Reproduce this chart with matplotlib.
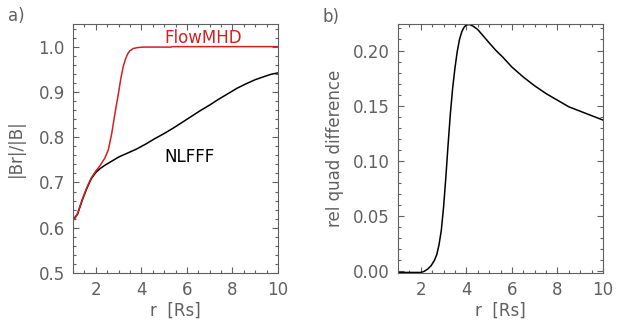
import matplotlib
matplotlib.use("Agg")
import matplotlib.pyplot as plt
from matplotlib.ticker import MultipleLocator

GREY = "#606060"
RED = "#d42020"

# panel a: |Br|/|B| vs r
r_nlfff = [1.0, 1.2, 1.4, 1.6, 1.8, 2.0, 2.2, 2.4, 2.6, 2.8, 3.0, 3.4, 3.8, 4.2, 4.6,
           5.0, 5.4, 5.8, 6.2, 6.6, 7.0, 7.4, 7.8, 8.2, 8.6, 9.0, 9.4, 9.7, 10.0]
b_nlfff = [0.618, 0.630, 0.660, 0.686, 0.708, 0.722, 0.731, 0.738, 0.744, 0.750, 0.756,
           0.765, 0.774, 0.785, 0.797, 0.808, 0.820, 0.833, 0.846, 0.859, 0.871, 0.884,
           0.896, 0.908, 0.918, 0.927, 0.934, 0.939, 0.942]

r_flow = [1.0, 1.1, 1.2, 1.4, 1.6, 1.8, 2.0, 2.2, 2.4, 2.55, 2.7, 2.85, 3.0, 3.1, 3.2,
          3.3, 3.4, 3.5, 3.65, 3.85, 4.1, 5.3, 5.35, 10.0]
b_flow = [0.622, 0.621, 0.632, 0.662, 0.688, 0.710, 0.725, 0.738, 0.754, 0.772, 0.808,
          0.855, 0.898, 0.930, 0.955, 0.972, 0.984, 0.991, 0.996, 0.998, 0.999, 0.999,
          1.0, 1.0]

# panel b: relative quadratic difference
r_diff = [1.0, 2.0, 2.15, 2.3, 2.45, 2.6, 2.7, 2.8, 2.9, 3.0, 3.1, 3.2, 3.3, 3.4, 3.5,
          3.6, 3.7, 3.8, 3.9, 4.0, 4.15, 4.3, 4.5, 4.75, 5.0, 5.3, 5.6, 6.0, 6.5, 7.0,
          7.5, 8.0, 8.5, 9.0, 9.5, 10.0]
d_diff = [-0.001, -0.001, 0.0, 0.002, 0.005, 0.010, 0.015, 0.024, 0.037, 0.058, 0.085,
          0.115, 0.143, 0.166, 0.184, 0.199, 0.210, 0.217, 0.221, 0.2232, 0.2235, 0.222,
          0.219, 0.213, 0.207, 0.200, 0.194, 0.185, 0.176, 0.168, 0.161, 0.155, 0.149,
          0.145, 0.141, 0.137]

plt.rcParams["font.family"] = ["DejaVu Sans"]
plt.rcParams["text.color"] = GREY

fig = plt.figure(figsize=(6.18, 3.26), dpi=100)
ax1 = fig.add_axes([73 / 618, 53 / 326, 205 / 618, 249 / 326])
ax2 = fig.add_axes([398 / 618, 53 / 326, 205 / 618, 249 / 326])


def style(ax):
    for s in ax.spines.values():
        s.set_color(GREY)
        s.set_linewidth(0.8)
    ax.tick_params(which="both", direction="in", top=True, right=True,
                   color=GREY, labelcolor=GREY, labelsize=12, width=0.8)
    ax.tick_params(which="major", length=4.5, pad=6)
    ax.tick_params(which="minor", length=2.2)
    ax.set_xlim(1, 10)
    ax.xaxis.set_major_locator(MultipleLocator(2))
    ax.xaxis.set_minor_locator(MultipleLocator(0.5))
    ax.set_xlabel("r  [Rs]", fontsize=12, color=GREY, labelpad=2)


style(ax1)
ax1.plot(r_nlfff, b_nlfff, color="black", lw=1.1)
ax1.plot(r_flow, b_flow, color=RED, lw=1.1)
ax1.set_ylim(0.5, 1.05)
ax1.yaxis.set_major_locator(MultipleLocator(0.1))
ax1.yaxis.set_minor_locator(MultipleLocator(0.02))
ax1.yaxis.set_major_formatter(lambda v, p: f"{v:.1f}")
ax1.set_ylabel("|Br|/|B|", fontsize=12, color=GREY, labelpad=10)
ax1.text(5.0, 1.02, "FlowMHD", color=RED, fontsize=12, va="center")
ax1.text(5.0, 0.757, "NLFFF", color="black", fontsize=12, va="center")
fig.text(8 / 618, 1 - 16 / 326, "a)", fontsize=12, color=GREY, va="center")

style(ax2)
ax2.plot(r_diff, d_diff, color="black", lw=1.1)
ax2.set_ylim(-0.0015, 0.224)
ax2.yaxis.set_major_locator(MultipleLocator(0.05))
ax2.yaxis.set_minor_locator(MultipleLocator(0.01))
ax2.yaxis.set_major_formatter(lambda v, p: f"{v:.2f}")
ax2.set_ylabel("rel quad difference", fontsize=12, color=GREY, labelpad=6)
fig.text(322 / 618, 1 - 17 / 326, "b)", fontsize=12, color=GREY, va="center")

fig.savefig("out.png", dpi=100)
